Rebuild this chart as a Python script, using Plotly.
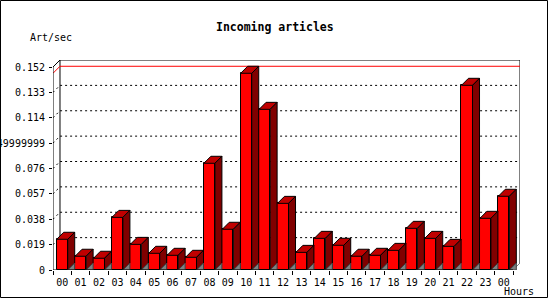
import plotly.graph_objects as go

# ---- data ----
hours = ["00", "01", "02", "03", "04", "05", "06", "07", "08", "09", "10", "11",
         "12", "13", "14", "15", "16", "17", "18", "19", "20", "21", "22", "23", "00"]
rate = [0.0230, 0.0103, 0.0088, 0.0394, 0.0192, 0.0125, 0.0110, 0.0095, 0.0799,
        0.0305, 0.1473, 0.1203, 0.0499, 0.0132, 0.0237, 0.0185, 0.0103, 0.0110,
        0.0147, 0.0312, 0.0237, 0.0177, 0.1383, 0.0387, 0.0552]
ytick_vals = [0, 0.019, 0.038, 0.057, 0.076, 0.095, 0.114, 0.133, 0.152]
ytick_text = ["0", "0.019", "0.038", "0.057", "0.076", "0.0949999999",
              "0.114", "0.133", "0.152"]

# ---- geometry / style ----
ML, MR, MT, MB = 53, 30, 60, 30
PW, PH = 550 - ML - MR, 300 - MT - MB
W = 0.6                  # front face width (category units)
DX = 0.38                # 3D depth in x (category units)
YMAX = ytick_vals[-1]
DY = YMAX * 7 / 203      # 3D depth in y (value units)
FONT = "DejaVu Sans Mono"
RED, TOP, SIDE, GREY = "#ff0000", "#c00000", "#800000", "#808080"

x = list(range(len(rate)))
xlo, xhi = -0.5, len(rate) - 0.5


def px(xp):
    return (xp - ML) / PW


def py(yp):
    return ((300 - MB) - yp) / PH


def polys(fn):
    xs, ys = [], []
    for i, v in zip(x, rate):
        pts = fn(i, v)
        xs += [p[0] for p in pts] + [pts[0][0], None]
        ys += [p[1] for p in pts] + [pts[0][1], None]
    return xs, ys


fig = go.Figure()

# front faces
fig.add_trace(go.Bar(x=x, y=rate, width=W, marker=dict(color=RED, line=dict(color="black", width=1)),
                     hoverinfo="skip"))

# top faces
tx, ty = polys(lambda i, v: [(i - W / 2, v), (i - W / 2 + DX, v + DY), (i + W / 2 + DX, v + DY), (i + W / 2, v)])
fig.add_trace(go.Scatter(x=tx, y=ty, mode="lines", fill="toself", fillcolor=TOP,
                         line=dict(color="black", width=1), hoverinfo="skip"))
# side faces
sx, sy = polys(lambda i, v: [(i + W / 2, 0), (i + W / 2, v), (i + W / 2 + DX, v + DY), (i + W / 2 + DX, DY)])
fig.add_trace(go.Scatter(x=sx, y=sy, mode="lines", fill="toself", fillcolor=SIDE,
                         line=dict(color="black", width=1), hoverinfo="skip"))
# floor shadow triangles
gx, gy = polys(lambda i, v: [(i + W / 2, 0), (i + W / 2 + DX, DY), (i + W / 2 + DX, 0)])
fig.add_trace(go.Scatter(x=gx, y=gy, mode="lines", fill="toself", fillcolor=GREY,
                         line=dict(color="#404040", width=1), hoverinfo="skip"))

shapes = []
# back wall frame (left, top, right)
shapes.append(dict(type="path", layer="below",
                   path=f"M {xlo + DX},{DY} L {xlo + DX},{YMAX + DY} L {xhi + DX},{YMAX + DY} L {xhi + DX},{DY}",
                   line=dict(color="black", width=1)))
# dotted grid lines on back wall with small diagonal from front axis
for v in ytick_vals[1:-1]:
    shapes.append(dict(type="path", layer="below",
                       path=f"M {xlo},{v} L {xlo + DX},{v + DY} L {xhi + DX},{v + DY}",
                       line=dict(color="black", width=1, dash="2px,3px")))
# max value red line
vmax = max(rate)
shapes.append(dict(type="path", layer="below",
                   path=f"M {xlo},{vmax} L {xlo + DX},{vmax + DY} L {xhi + DX},{vmax + DY}",
                   line=dict(color="red", width=1)))
# front left axis + diagonal to back top-left
shapes.append(dict(type="path", layer="above",
                   path=f"M {xlo},0 L {xlo},{YMAX} L {xlo + DX},{YMAX + DY}",
                   line=dict(color="black", width=1)))
# front bottom axis
shapes.append(dict(type="line", layer="above", x0=xlo, x1=xhi, y0=0, y1=0,
                   line=dict(color="black", width=1)))
shapes.append(dict(type="line", layer="below", x0=xhi, x1=xhi + DX, y0=0, y1=DY,
                   line=dict(color=GREY, width=1)))
# outer border of the image
shapes.append(dict(type="rect", xref="paper", yref="paper",
                   x0=px(0.5), x1=px(547.5), y0=py(297.5), y1=py(0.5),
                   line=dict(color="black", width=1)))

annotations = [
    dict(text="<b>Incoming articles</b>", xref="paper", yref="paper", x=px(275), y=py(27),
         xanchor="center", yanchor="middle", showarrow=False, font=dict(family=FONT, size=11.5, color="black")),
    dict(text="Art/sec", xref="paper", yref="paper", x=px(51), y=py(37.5),
         xanchor="center", yanchor="middle", showarrow=False, font=dict(family=FONT, size=10, color="black")),
    dict(text="Hours", xref="paper", yref="paper", x=px(519), y=py(291.5),
         xanchor="center", yanchor="middle", showarrow=False, font=dict(family=FONT, size=10, color="black")),
]

fig.update_layout(
    width=550, height=300, margin=dict(l=ML, r=MR, t=MT, b=MB, autoexpand=False),
    paper_bgcolor="white", plot_bgcolor="white", showlegend=False, bargap=0,
    shapes=shapes, annotations=annotations,
    font=dict(family=FONT, size=10, color="black"),
    xaxis=dict(range=[xlo, xhi + DX], tickvals=x, ticktext=hours, ticks="", showgrid=False,
               zeroline=False, showline=False, tickfont=dict(family=FONT, size=10, color="black"),
               ticklabelstandoff=5,
               minor=dict(ticks="outside", ticklen=4, tickcolor="black", dtick=1, tick0=-0.5, showgrid=False),
               fixedrange=True),
    yaxis=dict(range=[0, YMAX + DY], tickvals=ytick_vals, ticktext=ytick_text, ticks="outside",
               ticklen=3, tickcolor="black", showgrid=False, zeroline=False, showline=False,
               ticklabelstandoff=2,
               tickfont=dict(family=FONT, size=10, color="black"), fixedrange=True),
)

fig.write_html("out.html", config={"displayModeBar": False})
